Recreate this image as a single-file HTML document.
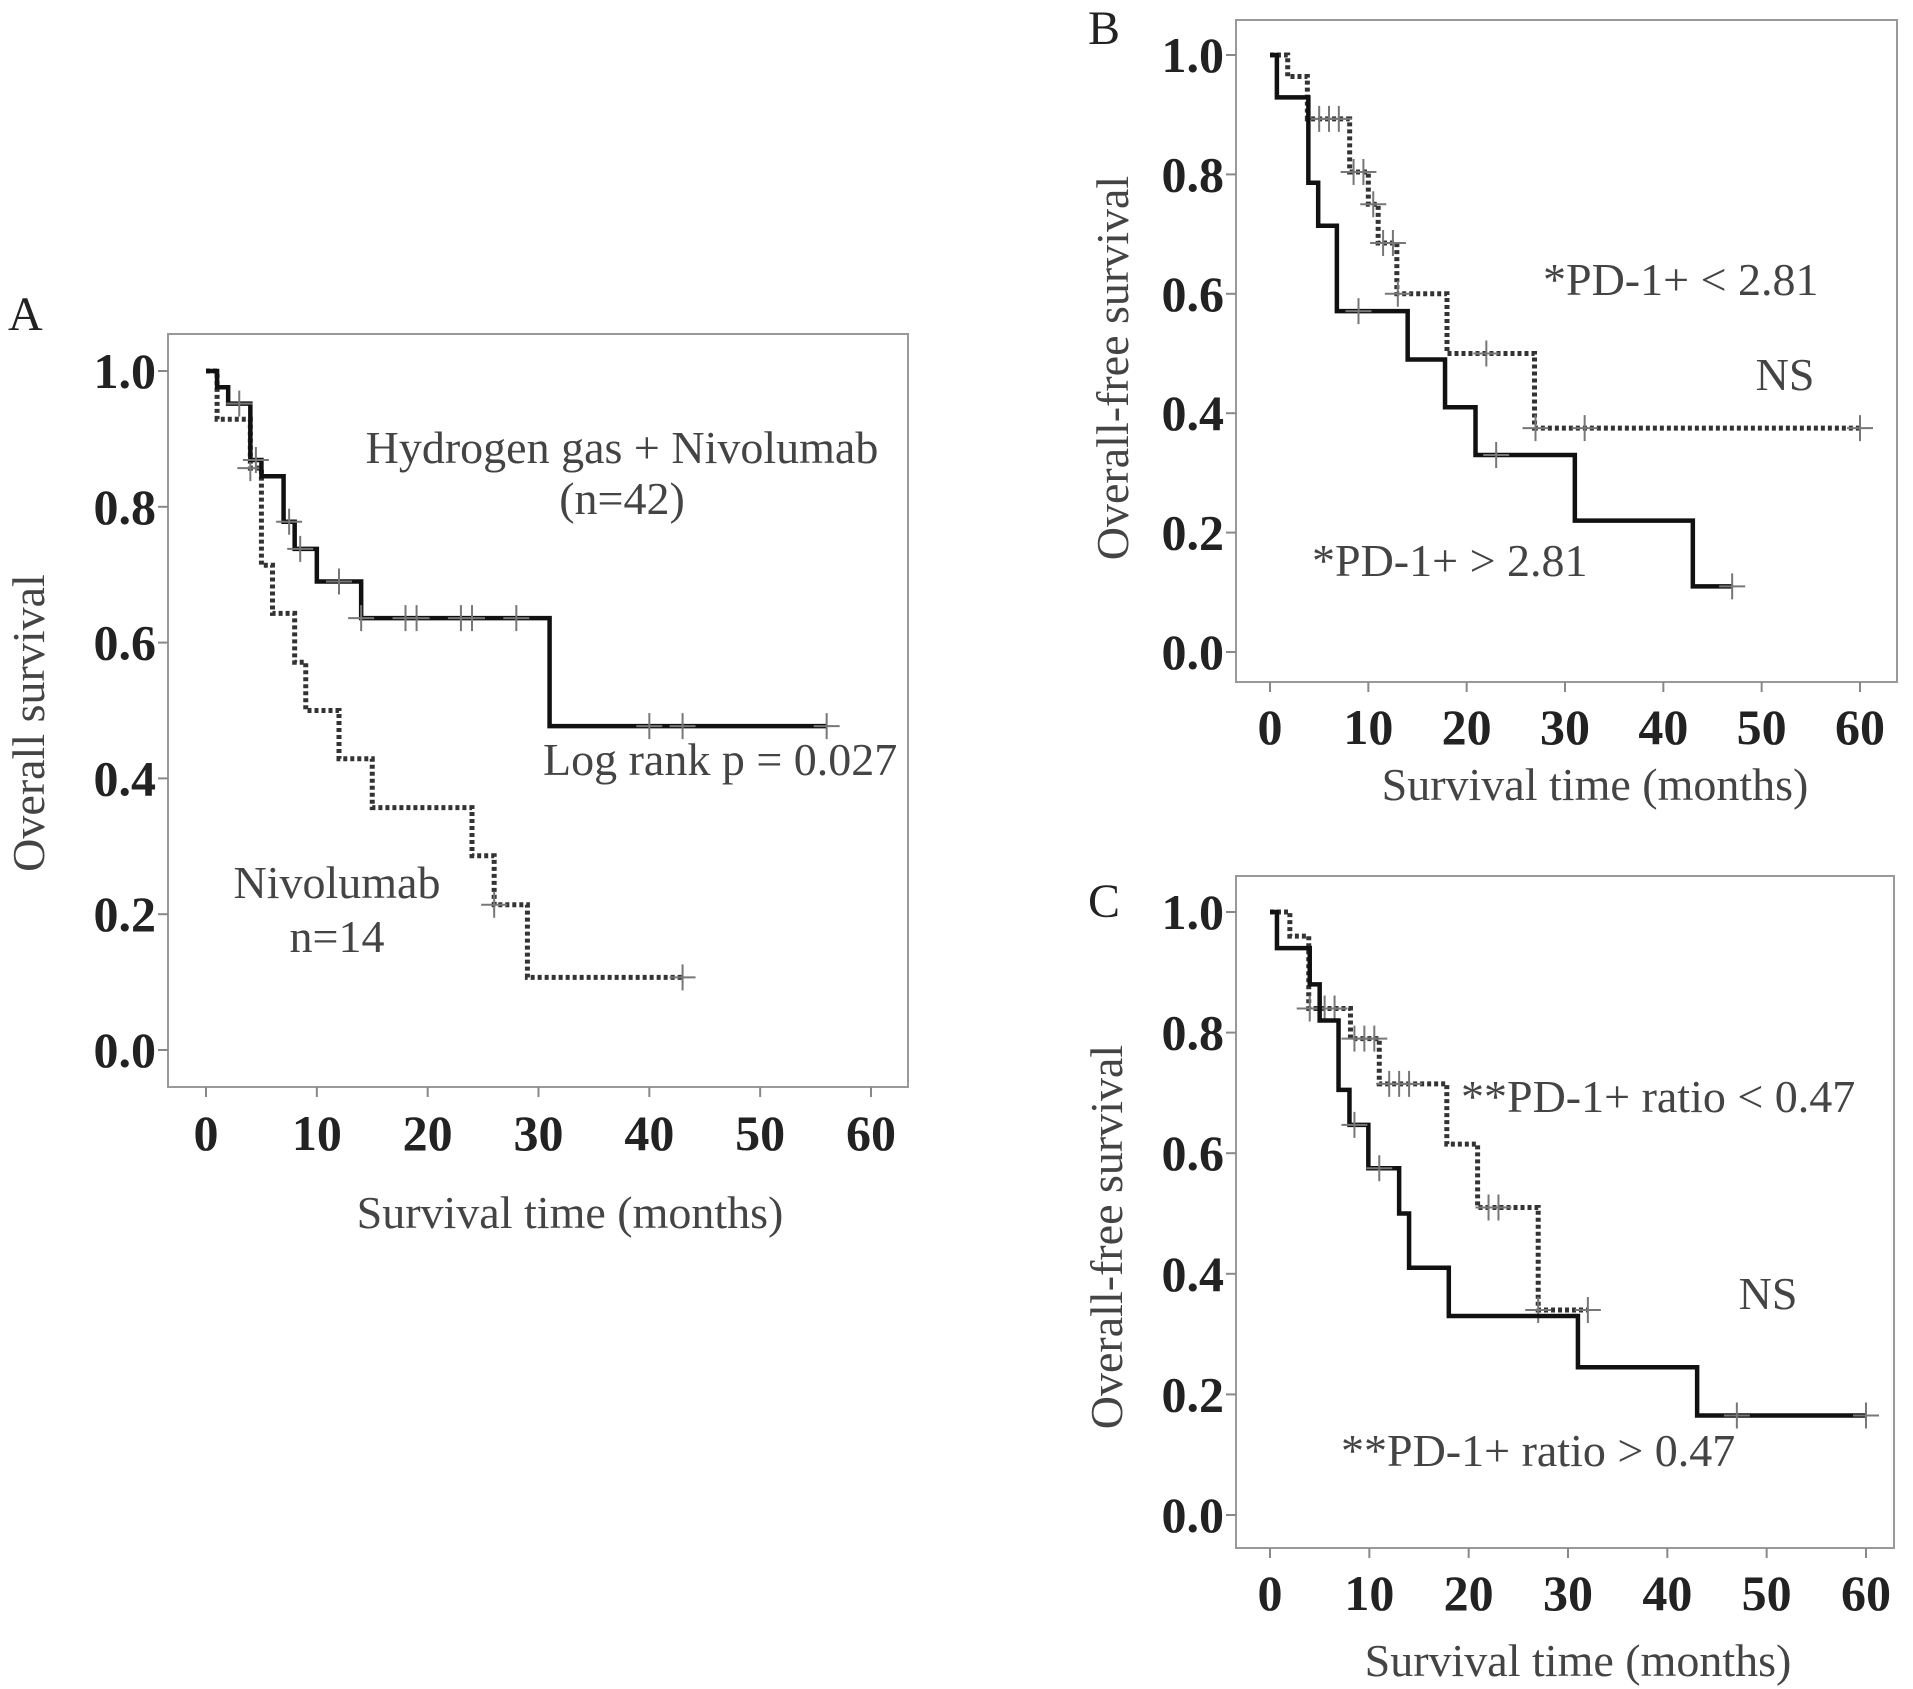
<!DOCTYPE html>
<html><head><meta charset="utf-8">
<style>
html,body{margin:0;padding:0;background:#fff;}
svg{display:block;}
text{font-family:"Liberation Serif",serif;}
.tick{font-weight:bold;font-size:50px;fill:#222;}
.title{font-size:46px;fill:#444;}
.ann{font-size:46px;fill:#444;}
.plab{font-size:48px;fill:#222;}
</style></head>
<body>
<svg id="fig" width="1913" height="1689" viewBox="0 0 1913 1689" xmlns="http://www.w3.org/2000/svg"></svg>
<script>
// ---- Panel A data ----
const aSolidTimes = [0, 1, 2, 4, 5, 7, 8, 10, 14, 31, 56];
const aSolidValues = [1, 0.976, 0.952, 0.869, 0.845, 0.778, 0.738, 0.69, 0.636, 0.477, 0.477];
const aSolidCensorT = [3, 4.5, 7.5, 8.5, 12, 14, 18, 19, 23, 24, 28, 40, 43, 56];
const aDotTimes = [0, 1, 4, 5, 6, 8, 9, 12, 15, 24, 26, 29, 43];
const aDotValues = [1, 0.929, 0.857, 0.714, 0.643, 0.571, 0.5, 0.429, 0.357, 0.286, 0.214, 0.107, 0.107];
const aDotCensorT = [4, 26, 43];
// ---- Panel B data ----
const bSolidTimes = [0, 0.7, 3.9, 4.9, 6.8, 14, 17.8, 20.9, 31, 43, 47];
const bSolidValues = [1, 0.929, 0.786, 0.714, 0.571, 0.49, 0.41, 0.33, 0.22, 0.11, 0.11];
const bSolidCensorT = [9, 23, 47];
const bDotTimes = [0, 1.8, 3.8, 8.1, 10, 11, 12.9, 18, 26.9, 60];
const bDotValues = [1, 0.964, 0.893, 0.804, 0.75, 0.685, 0.6, 0.5, 0.375, 0.375];
const bDotCensorT = [5, 6, 7, 8.5, 9.5, 10.5, 11.5, 12.5, 13, 22, 27, 32, 60];
// ---- Panel C data ----
const cSolidTimes = [0, 0.7, 4, 5, 6.9, 8, 9.9, 13, 14, 18, 31, 43, 60];
const cSolidValues = [1, 0.94, 0.88, 0.82, 0.705, 0.647, 0.575, 0.5, 0.41, 0.33, 0.245, 0.165, 0.165];
const cSolidCensorT = [8.5, 11, 47, 60];
const cDotTimes = [0, 2, 3.9, 8.1, 11, 17.8, 20.9, 27, 32];
const cDotValues = [1, 0.96, 0.84, 0.79, 0.715, 0.615, 0.51, 0.34, 0.34];
const cDotCensorT = [4, 5.5, 6.5, 8.5, 9.5, 10.5, 12, 13, 14, 22, 23, 27, 32];
const xTicks = [0, 10, 20, 30, 40, 50, 60];
const yTicks = [0, 0.2, 0.4, 0.6, 0.8, 1.0];

const NS = "http://www.w3.org/2000/svg";
const svg = document.getElementById('fig');
function mk(tag, attrs, parent) {
  const e = document.createElementNS(NS, tag);
  for (const k in attrs) e.setAttribute(k, attrs[k]);
  (parent || svg).appendChild(e);
  return e;
}
function txt(s, x, y, cls, anchor, parent) {
  const t = mk('text', {x: x, y: y, class: cls, 'text-anchor': anchor || 'start'}, parent);
  t.textContent = s;
  return t;
}
function stepAt(times, values, t) {
  let v = values[0];
  for (let i = 0; i < times.length; i++) if (times[i] <= t) v = values[i];
  return v;
}
function panel(p) {
  const g = mk('g', {});
  
  
  const xs = t => p.x0 + (p.x60 - p.x0) * t / 60;
  const ys = v => p.y0 + (p.y1 - p.y0) * v;
  const frame = mk('rect', {x: p.fl, y: p.ft, width: p.fr - p.fl, height: p.fb - p.ft, fill: 'none', stroke: '#999', 'stroke-width': 2}, g);
  
  
  yTicks.forEach(v => {
    mk('line', {x1: p.fl - 10, x2: p.fl, y1: ys(v), y2: ys(v), stroke: '#888', 'stroke-width': 2}, g);
    const t = txt(v.toFixed(1), p.fl - 12, ys(v) + 17, 'tick', 'end', g);
    
    
  });
  xTicks.forEach(v => {
    mk('line', {x1: xs(v), x2: xs(v), y1: p.fb, y2: p.fb + 10, stroke: '#888', 'stroke-width': 2}, g);
    const t = txt(String(v), xs(v), p.xl, 'tick', 'middle', g);
    
    
  });
  const xt = txt('Survival time (months)', p.xtx, p.xty, 'title', 'middle', g);
  
  
  const yt = txt(p.ytitle, 0, 0, 'title', 'middle', g);
  yt.setAttribute('transform', 'translate(' + p.ytx + ',' + p.yty + ') rotate(-90)');
  
  
  const pl = txt(p.letter, p.lx, p.ly, 'plab', 'start', g);
  
  
  function curve(times, values, cens, dotted, nm) {
    let d = 'M' + xs(times[0]) + ',' + ys(values[0]);
    for (let i = 1; i < times.length; i++) {
      d += ' H' + xs(times[i]) + ' V' + ys(values[i]);
    }
    const path = mk('path', {d: d, fill: 'none', stroke: dotted ? '#333' : '#111', 'stroke-width': dotted ? 5 : 4.5,
      'stroke-dasharray': dotted ? '4,3' : 'none', 'stroke-linejoin': 'miter'}, g);
    
    
    cens.forEach(t => {
      const cx = xs(t), cy = ys(stepAt(times, values, t));
      const c = mk('path', {d: 'M' + (cx - 13) + ',' + cy + ' H' + (cx + 13) + ' M' + cx + ',' + (cy - 13) + ' V' + (cy + 13), stroke: '#777', 'stroke-width': 2, fill: 'none'}, g);
      
      
    });
  }
  curve(p.dT, p.dV, p.dC, true, 'dotted-curve');
  curve(p.sT, p.sV, p.sC, false, 'solid-curve');
  p.anns.forEach(a => {
    const t = txt(a[0], a[1], a[2], 'ann', a[3], g);
    
    
  });
  return g;
}
panel({name: 'panel-a', fl: 168, ft: 334, fr: 908, fb: 1087, x0: 206, x60: 871, y1: 371, y0: 1050,
  xl: 1150, xtx: 570, xty: 1228, ytitle: 'Overall survival', ytx: 44, yty: 723, letter: 'A', lx: 8, ly: 330,
  sT: aSolidTimes, sV: aSolidValues, sC: aSolidCensorT, dT: aDotTimes, dV: aDotValues, dC: aDotCensorT,
  anns: [['Hydrogen gas + Nivolumab', 622, 463, 'middle'], ['(n=42)', 622, 514, 'middle'],
         ['Log rank p = 0.027', 543, 775, 'start'], ['Nivolumab', 337, 898, 'middle'], ['n=14', 337, 952, 'middle']]});
panel({name: 'panel-b', fl: 1236, ft: 20, fr: 1897, fb: 682, x0: 1270, x60: 1860, y1: 55, y0: 652,
  xl: 744, xtx: 1595, xty: 800, ytitle: 'Overall-free survival', ytx: 1128, yty: 368, letter: 'B', lx: 1088, ly: 44,
  sT: bSolidTimes, sV: bSolidValues, sC: bSolidCensorT, dT: bDotTimes, dV: bDotValues, dC: bDotCensorT,
  anns: [['*PD-1+ < 2.81', 1543, 295, 'start'], ['NS', 1785, 390, 'middle'], ['*PD-1+ > 2.81', 1312, 576, 'start']]});
panel({name: 'panel-c', fl: 1236, ft: 876, fr: 1894, fb: 1548, x0: 1270, x60: 1866, y1: 912, y0: 1515,
  xl: 1610, xtx: 1578, xty: 1676, ytitle: 'Overall-free survival', ytx: 1122, yty: 1237, letter: 'C', lx: 1088, ly: 917,
  sT: cSolidTimes, sV: cSolidValues, sC: cSolidCensorT, dT: cDotTimes, dV: cDotValues, dC: cDotCensorT,
  anns: [['**PD-1+ ratio < 0.47', 1461, 1112, 'start'], ['NS', 1768, 1309, 'middle'], ['**PD-1+ ratio > 0.47', 1341, 1466, 'start']]});
</script>
</body></html>
